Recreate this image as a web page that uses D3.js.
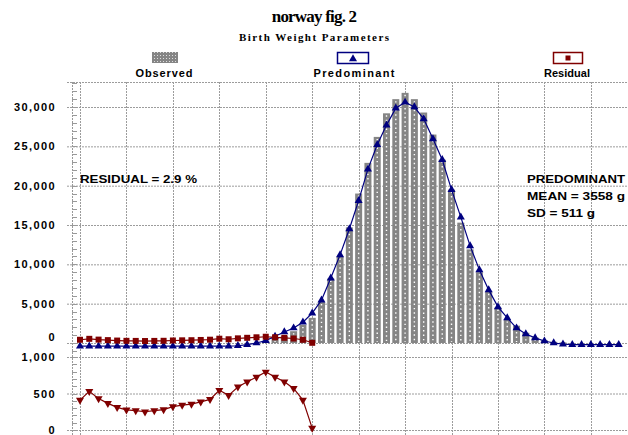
<!DOCTYPE html>
<html>
<head>
<meta charset="utf-8">
<script src="https://cdn.jsdelivr.net/npm/d3@7"></script>
<style>
  body { margin: 0; background: #fff; }
  svg { display: block; }
  text { fill: #000; }
</style>
</head>
<body>
<svg id="chart" width="628" height="435"></svg>
<script>
// birth weight bins (g), one per 100 g
const weights = [0, 100, 200, 300, 400, 500, 600, 700, 800, 900,
  1000, 1100, 1200, 1300, 1400, 1500, 1600, 1700, 1800, 1900,
  2000, 2100, 2200, 2300, 2400, 2500, 2600, 2700, 2800, 2900,
  3000, 3100, 3200, 3300, 3400, 3500, 3600, 3700, 3800, 3900,
  4000, 4100, 4200, 4300, 4400, 4500, 4600, 4700, 4800, 4900,
  5000, 5100, 5200, 5300, 5400, 5500, 5600, 5700, 5800];

// fitted predominant distribution (same bins as weights)
const predominant = [-400, -400, -400, -400, -400, -400, -400, -400, -400, -400,
  -400, -400, -400, -400, -400, -400, -400, -350, -200, 0,
  300, 850, 1400, 1900, 2650, 3800, 5450, 8250, 11200, 14500,
  18100, 22100, 25200, 27700, 29850, 30600, 30000, 28500, 25950, 23300,
  19500, 16000, 12350, 9300, 6750, 4600, 3200, 1900, 1150, 650,
  250, 0, -150, -200, -200, -200, -200, -200, -200];

// observed counts
const obsWeights = [2000, 2100, 2200, 2300, 2400, 2500, 2600, 2700, 2800, 2900,
  3000, 3100, 3200, 3300, 3400, 3500, 3600, 3700, 3800, 3900,
  4000, 4100, 4200, 4300, 4400, 4500, 4600, 4700, 4800, 4900,
  5000, 5100, 5200];
const observed = [300, 500, 900, 1500, 2300, 3200, 5200, 8200, 11000, 14700,
  19000, 22900, 26200, 29200, 31000, 31800, 31000, 29300, 26500, 23300,
  19500, 15300, 11900, 9000, 6500, 4500, 3000, 2200, 1300, 700,
  350, 150, 80];

// residual distribution
const resWeights = [0, 100, 200, 300, 400, 500, 600, 700, 800, 900,
  1000, 1100, 1200, 1300, 1400, 1500, 1600, 1700, 1800, 1900,
  2000, 2100, 2200, 2300, 2400, 2500];
const residual = [410, 530, 430, 365, 310, 275, 265, 250, 265, 280,
  320, 340, 355, 385, 420, 545, 475, 590, 660, 725,
  795, 725, 660, 570, 410, 25];

const upperTicks = [0, 5000, 10000, 15000, 20000, 25000, 30000];
const lowerTicks = [0, 500, 1000];
const gridWeights = [0, 500, 1000, 1500, 2000, 2500, 3000, 3500, 4000, 4500, 5000, 5500];

const NAVY = "#000080";
const MAROON = "#800000";
const GRID = "#9c9c9c";
const BAR = "#858585";

var svg = d3.select("#chart");
svg.append("rect").attr("width", 628).attr("height", 435).attr("fill", "#fff");

var defs = svg.append("defs");
var pat = defs.append("pattern").attr("id", "dots")
  .attr("patternUnits", "userSpaceOnUse").attr("width", 3).attr("height", 3);
pat.append("rect").attr("width", 3).attr("height", 3).attr("fill", BAR);
pat.append("rect").attr("x", 1).attr("y", 1).attr("width", 1).attr("height", 1).attr("fill", "#ddd");

var x = d3.scaleLinear().domain([0, 5900]).range([80, 628]);
var yTop = d3.scaleLinear().domain([-1780, 33180]).range([357, 82]);
var yBot = d3.scaleLinear().domain([0, 1000]).range([430, 357]);

var axisX = 72;

// vertical grid
svg.append("g").selectAll("line").data(gridWeights).join("line")
  .attr("x1", (d) => Math.round(x(d)) + 0.5).attr("x2", (d) => Math.round(x(d)) + 0.5)
  .attr("y1", 82).attr("y2", 435)
  .attr("stroke", GRID).attr("stroke-dasharray", "2,1");

// top border
svg.append("line").attr("x1", 67).attr("x2", 628).attr("y1", 82.5).attr("y2", 82.5)
  .attr("stroke", GRID).attr("stroke-dasharray", "2,1");

// y axes with gridlines
function styleAxis(g) {
  g.select(".domain").remove();
  g.selectAll(".tick line").attr("x1", -5).attr("stroke", GRID).attr("stroke-dasharray", "2,1");
  g.selectAll(".tick text")
    .style("font-family", "'Liberation Sans', Arial, sans-serif")
    .style("font-size", "11px").style("font-weight", "bold")
    .style("letter-spacing", "1.4px");
}

var upperAxis = svg.append("g").attr("transform", `translate(${axisX},0)`)
  .call(d3.axisLeft(yTop).tickValues(upperTicks).tickFormat(d3.format(","))
    .tickSizeInner(-(628 - axisX)).tickSizeOuter(0).tickPadding(16))
  .call(styleAxis);
upperAxis.selectAll(".tick text").filter((d) => d === 0).attr("y", -6);

var lowerAxis = svg.append("g").attr("transform", `translate(${axisX},0)`)
  .call(d3.axisLeft(yBot).tickValues(lowerTicks).tickFormat(d3.format(","))
    .tickSizeInner(-(628 - axisX)).tickSizeOuter(0).tickPadding(16))
  .call(styleAxis);

// minor ticks
var minorUpper = d3.range(-1000, 33001, 1000);
var minorLower = d3.range(0, 1001, 100);
var minor = svg.append("g").attr("stroke", "#999");
minor.selectAll(".mu").data(minorUpper).join("line").attr("class", "mu")
  .attr("x1", axisX).attr("x2", axisX + 5)
  .attr("y1", (d) => Math.round(yTop(d)) + 0.5).attr("y2", (d) => Math.round(yTop(d)) + 0.5);
minor.selectAll(".ml").data(minorLower).join("line").attr("class", "ml")
  .attr("x1", axisX).attr("x2", axisX + 5)
  .attr("y1", (d) => Math.round(yBot(d)) + 0.5).attr("y2", (d) => Math.round(yBot(d)) + 0.5);

svg.append("line").attr("x1", axisX + 0.5).attr("x2", axisX + 0.5).attr("y1", 82).attr("y2", 435)
  .attr("stroke", "#999").attr("stroke-dasharray", "2,1");

// observed bars
var barW = 7;
var bars = svg.append("g");
bars.selectAll("rect").data(observed).join("rect")
  .attr("x", (d, i) => x(obsWeights[i]) - barW / 2)
  .attr("width", barW)
  .attr("y", (d) => yTop(d))
  .attr("height", (d) => yTop(0) - yTop(d))
  .attr("fill", BAR);
bars.selectAll("line").data(observed).join("line")
  .attr("x1", (d, i) => x(obsWeights[i])).attr("x2", (d, i) => x(obsWeights[i]))
  .attr("y1", (d) => yTop(d) + 2).attr("y2", yTop(0) - 1)
  .attr("stroke", "#fff").attr("stroke-width", 1.4).attr("stroke-dasharray", "1.4,3");

// predominant line + triangles
var triUp = d3.symbol().type(d3.symbolTriangle).size(28);
var lineTop = d3.line().x((d) => x(d[0])).y((d) => yTop(d[1]));
var predPts = weights.map((w, i) => [w, predominant[i]]);
svg.append("path").attr("d", lineTop(predPts))
  .attr("fill", "none").attr("stroke", NAVY).attr("stroke-width", 1.2);
svg.append("g").selectAll("path").data(predPts).join("path")
  .attr("transform", (d) => `translate(${x(d[0])},${yTop(d[1])})`)
  .attr("d", triUp).attr("fill", NAVY);

// residual in upper panel (squares)
var resPts = resWeights.map((w, i) => [w, residual[i]]);
svg.append("path").attr("d", lineTop(resPts))
  .attr("fill", "none").attr("stroke", MAROON).attr("stroke-width", 1.2);
svg.append("g").selectAll("rect").data(resPts).join("rect")
  .attr("x", (d) => x(d[0]) - 3).attr("y", (d) => yTop(d[1]) - 3)
  .attr("width", 6).attr("height", 6).attr("fill", MAROON);

// residual in lower panel (down triangles)
var lineBot = d3.line().x((d) => x(d[0])).y((d) => yBot(d[1]));
svg.append("path").attr("d", lineBot(resPts))
  .attr("fill", "none").attr("stroke", MAROON).attr("stroke-width", 1.2);
svg.append("g").selectAll("path").data(resPts).join("path")
  .attr("transform", (d) => `translate(${x(d[0])},${yBot(d[1])}) rotate(180)`)
  .attr("d", triUp).attr("fill", MAROON);

// annotations
function label(txt, x0, y0, w, size) {
  svg.append("text").attr("x", x0).attr("y", y0)
    .attr("textLength", w).attr("lengthAdjust", "spacingAndGlyphs")
    .style("font-family", "'Liberation Sans', Arial, sans-serif")
    .style("font-size", size + "px").style("font-weight", "bold")
    .text(txt);
}
label("RESIDUAL = 2.9 %", 80, 183, 117, 10);
label("PREDOMINANT", 527, 183, 98, 10);
label("MEAN = 3558 g", 527, 200, 98, 10);
label("SD = 511 g", 527, 217, 68, 10);

// title
svg.append("text").attr("x", 314).attr("y", 22).attr("text-anchor", "middle")
  .style("font-family", "'Liberation Serif', 'Times New Roman', serif")
  .style("font-size", "17px").style("font-weight", "bold").style("letter-spacing", "-0.8px")
  .text("norway fig. 2");
svg.append("text").attr("x", 314).attr("y", 41).attr("text-anchor", "middle")
  .attr("textLength", 150).attr("lengthAdjust", "spacing")
  .style("font-family", "'Liberation Serif', 'Times New Roman', serif")
  .style("font-size", "11px").style("font-weight", "bold")
  .text("Birth Weight Parameters");

// legend
var legendItems = ["Observed", "Predominant", "Residual"];
var legendX = [164, 354, 567];
var legendW = [57, 81, 46];
var lg = svg.append("g");
legendItems.forEach((name, i) => {
  var cx = legendX[i];
  lg.append("text").attr("x", cx - legendW[i] / 2).attr("y", 77)
    .attr("textLength", legendW[i]).attr("lengthAdjust", "spacing")
    .style("font-family", "'Liberation Sans', Arial, sans-serif")
    .style("font-size", "11px").style("font-weight", "bold")
    .text(name);
});
lg.append("rect").attr("x", 152).attr("y", 52).attr("width", 26).attr("height", 11).attr("fill", "url(#dots)");
lg.append("rect").attr("x", 337.5).attr("y", 52.5).attr("width", 31).attr("height", 11)
  .attr("fill", "#fff").attr("stroke", NAVY).attr("stroke-width", 1.5);
lg.append("path").attr("transform", "translate(353,59)").attr("d", triUp).attr("fill", NAVY);
lg.append("rect").attr("x", 553.5).attr("y", 52.5).attr("width", 29).attr("height", 11)
  .attr("fill", "#fff").attr("stroke", MAROON).attr("stroke-width", 1.5);
lg.append("rect").attr("x", 565.5).attr("y", 55.5).attr("width", 5).attr("height", 5).attr("fill", MAROON);
</script>
</body>
</html>
